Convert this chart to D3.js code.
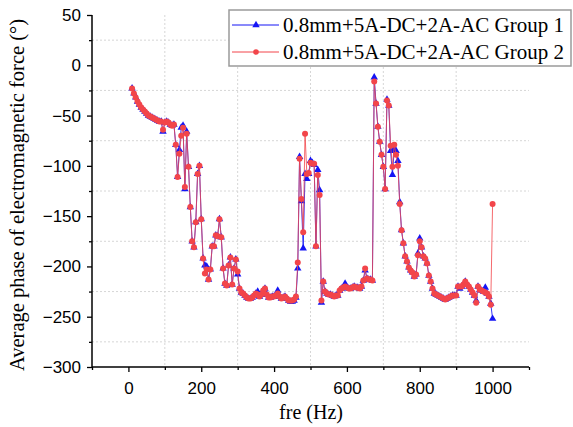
<!DOCTYPE html>
<html>
<head>
<meta charset="utf-8">
<script src="https://cdn.jsdelivr.net/npm/d3@7"></script>
<style>
  body { margin: 0; background: #fff; }
  svg { font-family: "Liberation Serif", "Times New Roman", serif; }
</style>
</head>
<body>
<svg id="chart" width="573" height="427"></svg>
<script>
// frequencies (Hz)
const freq = [
  10, 15, 20, 25, 30, 35, 40, 45, 50, 55, 60, 65, 70, 75, 80, 85, 90, 95, 100,
  105, 110, 115, 120, 125, 130, 135, 140, 145, 150, 155, 160, 165, 170, 175, 180, 185, 190, 195, 200,
  205, 210, 215, 220, 225, 230, 235, 240, 245, 250, 255, 260, 265, 270, 275, 280, 285, 290, 295, 300,
  305, 310, 315, 320, 325, 330, 335, 340, 345, 350, 355, 360, 365, 370, 375, 380, 385, 390, 395, 400,
  405, 410, 415, 420, 425, 430, 435, 440, 445, 450, 455, 460, 465, 470, 475, 480, 485, 490, 495, 500,
  505, 510, 515, 520, 525, 530, 535, 540, 545, 550, 555, 560, 565, 570, 575, 580, 585, 590, 595, 600,
  605, 610, 615, 620, 625, 630, 635, 640, 645, 650, 655, 660, 665, 670, 675, 680, 685, 690, 695, 700,
  705, 710, 715, 720, 725, 730, 735, 740, 745, 750, 755, 760, 765, 770, 775, 780, 785, 790, 795, 800,
  805, 810, 815, 820, 825, 830, 835, 840, 845, 850, 855, 860, 865, 870, 875, 880, 885, 890, 895, 900,
  905, 910, 915, 920, 925, 930, 935, 940, 945, 950, 955, 960, 965, 970, 975, 980, 985, 990, 995, 1000
];

// Group 1 (blue triangles)
const group1 = [
  -23, -28, -32, -36, -39, -42, -44, -46, -48, -50, -51, -52, -53, -54, -55, -56, -56, -66, -57,
  -56, -57, -59, -60, -59, -79, -111, -84, -62, -60, -123, -66, -101, -141, -175, -181, -156, -108, -100, -153,
  -192, -199, -200, -213, -203, -180, -180, -169, -170, -153, -171, -202, -217, -219, -199, -191, -218, -202, -193, -208,
  -222, -226, -227, -229, -231, -232, -232, -231, -229, -227, -225, -230, -228, -224, -222, -228, -231, -231, -230, -230,
  -229, -224, -230, -232, -231, -230, -232, -234, -235, -235, -234, -231, -202, -91, -135, -182, -108, -113, -108, -95,
  -97, -99, -180, -104, -124, -236, -215, -225, -227, -228, -228, -229, -230, -229, -229, -224, -222, -221, -217, -221,
  -222, -222, -221, -220, -221, -221, -222, -220, -214, -204, -212, -213, -213, -214, -12, -38, -61, -76, -89, -101,
  -123, -34, -40, -85, -109, -83, -85, -95, -136, -164, -177, -190, -195, -201, -204, -206, -210, -208, -187, -172,
  -181, -190, -192, -197, -209, -215, -222, -227, -228, -229, -230, -231, -232, -233, -232, -231, -230, -229, -229, -229,
  -220, -222, -220, -218, -215, -218, -220, -223, -226, -229, -234, -220, -223, -224, -225, -221, -227, -230, -237, -252
];

// Group 2 (red circles)
const group2 = [
  -23, -28, -32, -36, -39, -42, -44, -46, -48, -50, -51, -52, -53, -54, -55, -56, -56, -64, -57,
  -56, -57, -59, -60, -59, -79, -111, -88, -70, -62, -121, -68, -101, -141, -175, -181, -156, -108, -100, -153,
  -192, -207, -203, -213, -203, -180, -180, -169, -170, -153, -171, -202, -217, -219, -199, -191, -218, -202, -193, -205,
  -222, -226, -227, -229, -231, -232, -232, -231, -229, -227, -228, -230, -228, -224, -222, -228, -231, -231, -230, -230,
  -229, -227, -230, -232, -231, -230, -232, -234, -234, -234, -233, -230, -196, -93, -133, -166, -68, -108, -107, -97,
  -98, -98, -180, -109, -129, -234, -215, -225, -227, -228, -228, -229, -230, -229, -229, -224, -222, -221, -220, -221,
  -222, -222, -221, -220, -221, -221, -222, -220, -214, -202, -212, -213, -213, -214, -16, -38, -61, -76, -89, -101,
  -123, -35, -40, -80, -101, -79, -89, -100, -138, -164, -177, -190, -195, -201, -204, -206, -210, -208, -189, -175,
  -181, -190, -192, -197, -209, -215, -222, -227, -228, -229, -230, -231, -232, -233, -232, -231, -230, -229, -229, -229,
  -220, -220, -220, -218, -215, -218, -220, -223, -226, -229, -236, -220, -223, -224, -225, -226, -227, -230, -238, -138
];

const xTicks = [0, 200, 400, 600, 800, 1000];
const xMinor = [-100, 100, 300, 500, 700, 900, 1100];
const yTicks = [50, 0, -50, -100, -150, -200, -250, -300];
const yMinor = [25, -25, -75, -125, -175, -225, -275];
const seriesNames = ['0.8mm+5A-DC+2A-AC Group 1', '0.8mm+5A-DC+2A-AC Group 2'];

const plotL = 92, plotR = 529, plotT = 15, plotB = 367;

const svg = d3.select('#chart');

const x = d3.scaleLinear().domain([-100, 1100]).range([plotL, plotR]);
const y = d3.scaleLinear().domain([-300, 50]).range([plotB, plotT]);

// grid (dotted, at minor positions)
svg.append('g').selectAll('line')
    .data(yMinor)
    .enter()
    .append('line')
    .attr('x1', plotL).attr('x2', plotR)
    .attr('y1', d => y(d)).attr('y2', d => y(d))
    .attr('stroke', '#d6d6d6').attr('stroke-dasharray', '2,2');

svg.append('g').selectAll('line')
    .data(xMinor.slice(1, -1))
    .enter()
    .append('line')
    .attr('x1', d => x(d)).attr('x2', d => x(d))
    .attr('y1', plotT).attr('y2', plotB)
    .attr('stroke', '#d6d6d6').attr('stroke-dasharray', '2,2');

// axes
const xAxis = d3.axisBottom(x).tickValues(xTicks).tickSize(5).tickPadding(10).tickFormat(d3.format('d'));
const gx = svg.append('g').attr('transform', `translate(0, ${plotB})`).call(xAxis);
gx.select('.domain').attr('stroke-width', 1.5).attr('d', `M${plotL},0H${plotR}`);
gx.selectAll('.tick line').attr('stroke-width', 1.3);
gx.selectAll('text').style('font-size', '17px').attr('fill', '#000');
gx.append('g').call(d3.axisBottom(x).tickValues(xMinor).tickSize(3).tickFormat(''))
    .call(g => g.select('.domain').remove())
    .selectAll('line').attr('stroke-width', 1.3);

const yAxis = d3.axisLeft(y).tickValues(yTicks).tickSize(5).tickPadding(6).tickFormat(d3.format('d'));
const gy = svg.append('g').attr('transform', `translate(${plotL}, 0)`).call(yAxis);
gy.select('.domain').attr('stroke-width', 1.5).attr('d', `M0,${plotT}V${plotB}`);
gy.selectAll('.tick line').attr('stroke-width', 1.3);
gy.selectAll('text').style('font-size', '17px').attr('fill', '#000');
gy.append('g').call(d3.axisLeft(y).tickValues(yMinor).tickSize(3).tickFormat(''))
    .call(g => g.select('.domain').remove())
    .selectAll('line').attr('stroke-width', 1.3);

// axis titles
svg.append('text')
    .attr('x', 311).attr('y', 419)
    .attr('text-anchor', 'middle')
    .style('font-size', '20px')
    .text('fre (Hz)');

svg.append('text')
    .attr('transform', `translate(24, ${(plotT + plotB) / 2 + 4}) rotate(-90)`)
    .attr('text-anchor', 'middle')
    .style('font-size', '20.5px')
    .text('Average phase of electromagnetic force (°)');

// series
const line = d3.line().x(d => x(d[0])).y(d => y(d[1]));
const data1 = freq.map((f, i) => [f, group1[i]]);
const data2 = freq.map((f, i) => [f, group2[i]]);
const blue = '#1414f5', red = '#f2454a';
const tri = d3.symbol().type(d3.symbolTriangle).size(24);

svg.append('path').datum(data1).attr('d', line)
    .attr('fill', 'none').attr('stroke', blue).attr('stroke-width', 1).attr('stroke-opacity', 0.85);
svg.append('g').selectAll('path')
    .data(data1).enter().append('path')
    .attr('d', tri)
    .attr('transform', d => `translate(${x(d[0])}, ${y(d[1])})`)
    .attr('fill', blue);

svg.append('path').datum(data2).attr('d', line)
    .attr('fill', 'none').attr('stroke', red).attr('stroke-width', 1).attr('stroke-opacity', 0.8);
svg.append('g').selectAll('circle')
    .data(data2).enter().append('circle')
    .attr('cx', d => x(d[0])).attr('cy', d => y(d[1])).attr('r', 3)
    .attr('fill', red);

// legend
const lg = svg.append('g');
lg.append('rect').attr('x', 229).attr('y', 10).attr('width', 342).attr('height', 56)
    .attr('fill', '#fff').attr('stroke', '#9a9a9a').attr('stroke-width', 1.5);
[blue, red].forEach((c, i) => {
    const ly = 25 + i * 27;
    lg.append('line').attr('x1', 232).attr('x2', 279).attr('y1', ly).attr('y2', ly)
        .attr('stroke', c).attr('stroke-width', 1);
    if (i === 0) {
        lg.append('path').attr('d', tri).attr('transform', `translate(256, ${ly})`).attr('fill', c);
    } else {
        lg.append('circle').attr('cx', 256).attr('cy', ly).attr('r', 2.8).attr('fill', c);
    }
    lg.append('text').attr('x', 283).attr('y', ly + 7)
        .style('font-size', '21px')
        .text(seriesNames[i]);
});
</script>
</body>
</html>
